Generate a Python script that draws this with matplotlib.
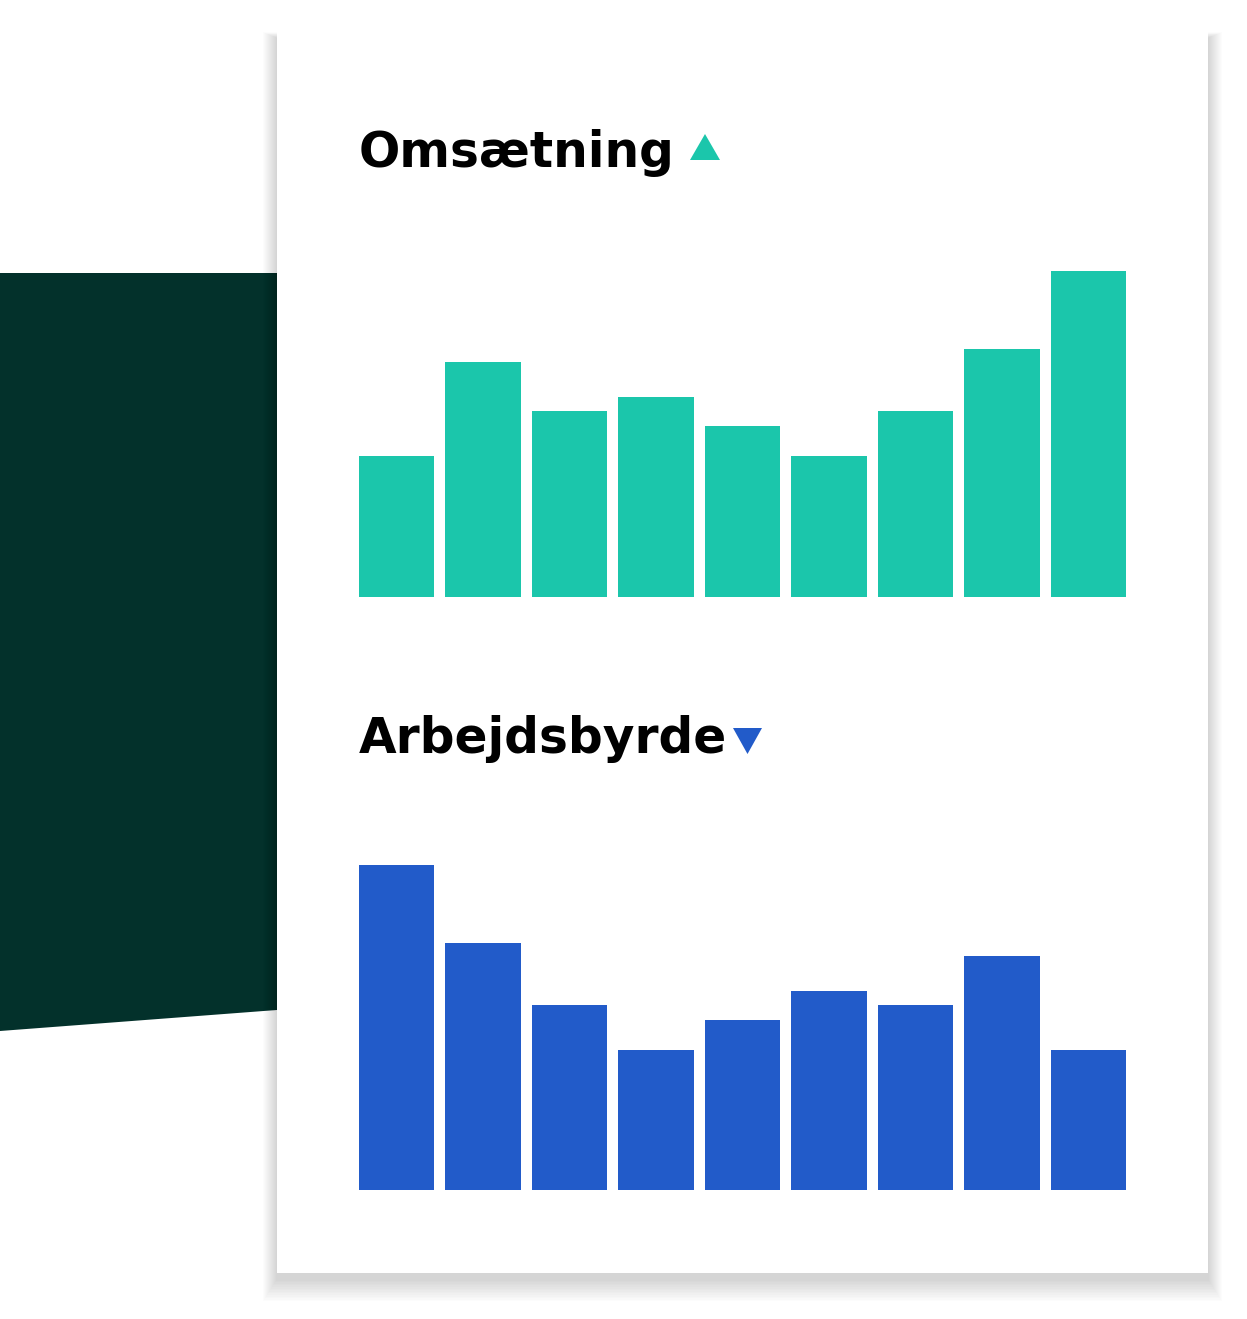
import matplotlib.pyplot as plt
import matplotlib.patches as patches

W, H = 1247, 1319

# bar values (arbitrary units)
omsaetning = [141, 235, 186, 200, 171, 141, 186, 248, 326]
arbejdsbyrde = [325, 247, 185, 140, 170, 199, 185, 234, 140]
titles = ['Omsætning', 'Arbejdsbyrde']

teal = '#1bc6ab'
blue = '#225bc9'

fig = plt.figure(figsize=(W / 100, H / 100), dpi=100)
bg = fig.add_axes([0, 0, 1, 1])
bg.set_xlim(0, W)
bg.set_ylim(H, 0)
bg.axis('off')

# dark green band behind the card
bg.add_patch(patches.Polygon([(0, 273), (290, 273), (290, 1009), (0, 1031)],
                             closed=True, facecolor='#03312b', edgecolor='none', zorder=0))

# soft shadow of the card
for i in range(14, 0, -1):
    bg.add_patch(patches.Rectangle((277 - i, 32 - i * 0.4 + 6), 931 + 2 * i, 1241 + 2 * i,
                                   facecolor='black', alpha=0.012, edgecolor='none', zorder=1))
bg.add_patch(patches.Rectangle((277, 32), 931, 1241, facecolor='white', edgecolor='none', zorder=2))

# titles and arrows
bg.text(359, 153, titles[0], fontsize=35, fontweight='bold', va='center', ha='left',
        color='black', zorder=3)
bg.add_patch(patches.Polygon([(690, 160), (720, 160), (705, 134)], facecolor=teal, zorder=3))
bg.text(359, 739, titles[1], fontsize=35, fontweight='bold', va='center', ha='left',
        color='black', zorder=3)
bg.add_patch(patches.Polygon([(733, 728), (762, 728), (747.5, 754)], facecolor=blue, zorder=3))


def bar_axes(values, top, bottom, color):
    ax = fig.add_axes([359 / W, 1 - bottom / H, (1126 - 359) / W, (bottom - top) / H])
    ax.bar(range(len(values)), values, width=0.87, color=color)
    ax.set_xlim(-0.435, len(values) - 1 + 0.435)
    ax.set_ylim(0, max(values))
    ax.axis('off')
    return ax


bar_axes(omsaetning, 271, 597, teal)
bar_axes(arbejdsbyrde, 865, 1190, blue)

fig.savefig('out.png', dpi=100)
